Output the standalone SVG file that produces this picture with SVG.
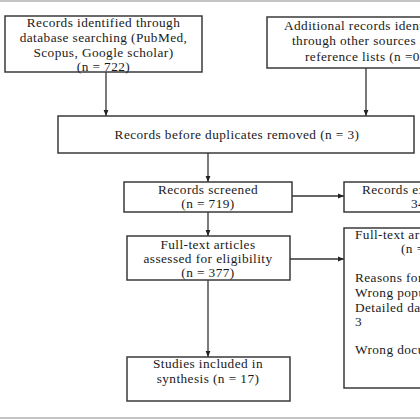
<svg xmlns="http://www.w3.org/2000/svg" width="420" height="420" viewBox="0 0 420 420">
<style>
.box{fill:#fff;stroke:#3a3a3a;stroke-width:1.5}
.t{font-family:"Liberation Serif","Times New Roman",serif;font-size:13.3px;letter-spacing:0.42px;fill:#1a1a1a}
.c{text-anchor:middle}
.ln{stroke:#333;stroke-width:1.3;fill:none;marker-end:url(#ah)}
.frame{fill:#c4c4c4}
</style>
<defs>
<marker id="ah" viewBox="0 0 6 6" refX="6" refY="3" markerWidth="6" markerHeight="6" markerUnits="userSpaceOnUse" orient="auto">
<path d="M0,0.6 L6,3 L0,5.4 Z" fill="#222"/>
</marker>
</defs>
<rect width="420" height="420" fill="#fff"/>
<rect class="frame" x="0" y="0" width="420" height="2"/>
<rect class="frame" x="0" y="417" width="420" height="2"/>

<g id="connectors">
<line class="ln" x1="106" y1="72" x2="106" y2="116"/>
<line class="ln" x1="366" y1="68" x2="366" y2="116"/>
<line class="ln" x1="208" y1="153" x2="208" y2="182"/>
<line class="ln" x1="292" y1="196" x2="344" y2="196"/>
<line class="ln" x1="208" y1="212" x2="208" y2="236"/>
<line class="ln" x1="290" y1="259" x2="344" y2="259"/>
<line class="ln" x1="208" y1="280" x2="208" y2="357"/>
</g>

<g id="identified">
<rect class="box" x="5" y="16" width="197" height="56"/>
<text class="t c" x="103.5" y="27">Records identified through</text>
<text class="t c" x="103.5" y="41.7">database searching (PubMed,</text>
<text class="t c" x="103.5" y="56.5">Scopus, Google scholar)</text>
<text class="t c" x="103.5" y="70.7">(n = 722)</text>
</g>

<g id="additional">
<rect class="box" x="267" y="17" width="240" height="51"/>
<text class="t" x="284" y="29.5">Additional records identified</text>
<text class="t" x="292" y="45">through other sources and</text>
<text class="t" x="305" y="60.5">reference lists (n =0)</text>
</g>

<g id="duplicates">
<rect class="box" x="58" y="116" width="356" height="37"/>
<text class="t c" x="237" y="138.5">Records before duplicates removed (n = 3)</text>
</g>

<g id="screened">
<rect class="box" x="124" y="182" width="168" height="30"/>
<text class="t c" x="208" y="194">Records screened</text>
<text class="t c" x="208" y="207.5">(n = 719)</text>
</g>

<g id="excluded">
<rect class="box" x="344" y="182" width="170" height="30"/>
<text class="t" x="362" y="194">Records excluded (n =</text>
<text class="t" x="411" y="207.5">342)</text>
</g>

<g id="eligibility">
<rect class="box" x="127" y="236" width="163" height="44"/>
<text class="t c" x="208" y="249">Full-text articles</text>
<text class="t c" x="208" y="263">assessed for eligibility</text>
<text class="t c" x="208" y="277">(n = 377)</text>
</g>

<g id="fulltext-excluded">
<rect class="box" x="344" y="228" width="170" height="160"/>
<text class="t" x="355" y="238.5">Full-text articles excluded,</text>
<text class="t" x="401" y="253">(n = 360)</text>
<text class="t" x="355" y="282">Reasons for exclusion:</text>
<text class="t" x="355" y="297">Wrong population</text>
<text class="t" x="355" y="312">Detailed data not reported =</text>
<text class="t" x="355" y="326">3</text>
<text class="t" x="355" y="354">Wrong document type</text>
</g>

<g id="included">
<rect class="box" x="127" y="357" width="163" height="44"/>
<text class="t c" x="208" y="368">Studies included in</text>
<text class="t c" x="208" y="383">synthesis (n = 17)</text>
</g>
</svg>
